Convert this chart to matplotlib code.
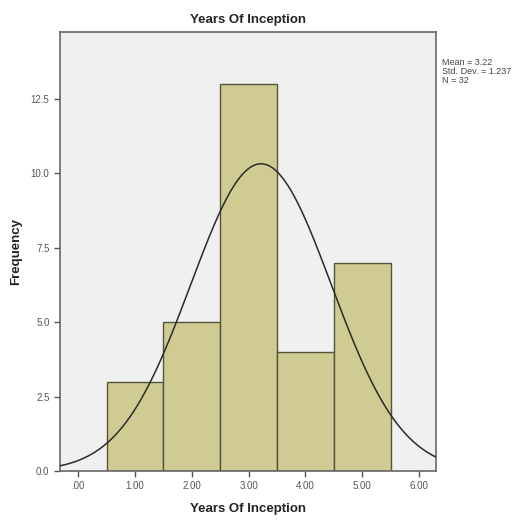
import numpy as np
import matplotlib
matplotlib.use("Agg")
import matplotlib.pyplot as plt

plt.rcParams['font.family'] = ['Liberation Sans', 'DejaVu Sans']

# histogram data (bins centred on the category values)
categories = [1, 2, 3, 4, 5]
frequencies = [3, 5, 13, 4, 7]
x_ticks = [0, 1, 2, 3, 4, 5, 6]
x_tick_labels = [".00", "1.00", "2.00", "3.00", "4.00", "5.00", "6.00"]
y_ticks = [0.0, 2.5, 5.0, 7.5, 10.0, 12.5]

vals = np.repeat(categories, frequencies)
n = len(vals)
mean = vals.mean()
sd = vals.std(ddof=1)

fig = plt.figure(figsize=(5.21, 5.21), dpi=100)
ax = fig.add_axes([0.115, 0.096, 0.722, 0.843])
ax.set_facecolor("#f0f0f0")

ax.bar(categories, frequencies, width=1.0, color="#d0cb92", edgecolor="#55533a", linewidth=1.0, zorder=2)

xs = np.linspace(-0.32, 6.3, 400)
pdf = n * 1.0 / (sd * np.sqrt(2 * np.pi)) * np.exp(-0.5 * ((xs - mean) / sd) ** 2)
ax.plot(xs, pdf, color="#2b2b2b", linewidth=1.1, zorder=3)

ax.set_xlim(-0.32, 6.3)
ax.set_ylim(0, 14.75)
ax.set_xticks(x_ticks)
ax.set_xticklabels(x_tick_labels)
ax.set_yticks(y_ticks)
ax.set_yticklabels([f"{t:.1f}" for t in y_ticks])
ax.tick_params(direction="out", length=4, width=1, colors="#555555", labelsize=7, labelcolor="#555555")
for s in ax.spines.values():
    s.set_color("#666666")
    s.set_linewidth(1.2)

ax.set_title("Years Of Inception", fontsize=9.5, fontweight="bold", color="#222222", pad=6)
ax.set_xlabel("Years Of Inception", fontsize=9.5, fontweight="bold", color="#222222", labelpad=8)
ax.set_ylabel("Frequency", fontsize=9.5, fontweight="bold", color="#222222", labelpad=6)

fig.text(0.848, 0.888, f"Mean = {mean:.2f}\nStd. Dev. = {sd:.3f}\nN = {n}",
         fontsize=6.5, color="#444444", va="top", ha="left", linespacing=1.0)

fig.savefig("out.png", dpi=100, facecolor="white")
